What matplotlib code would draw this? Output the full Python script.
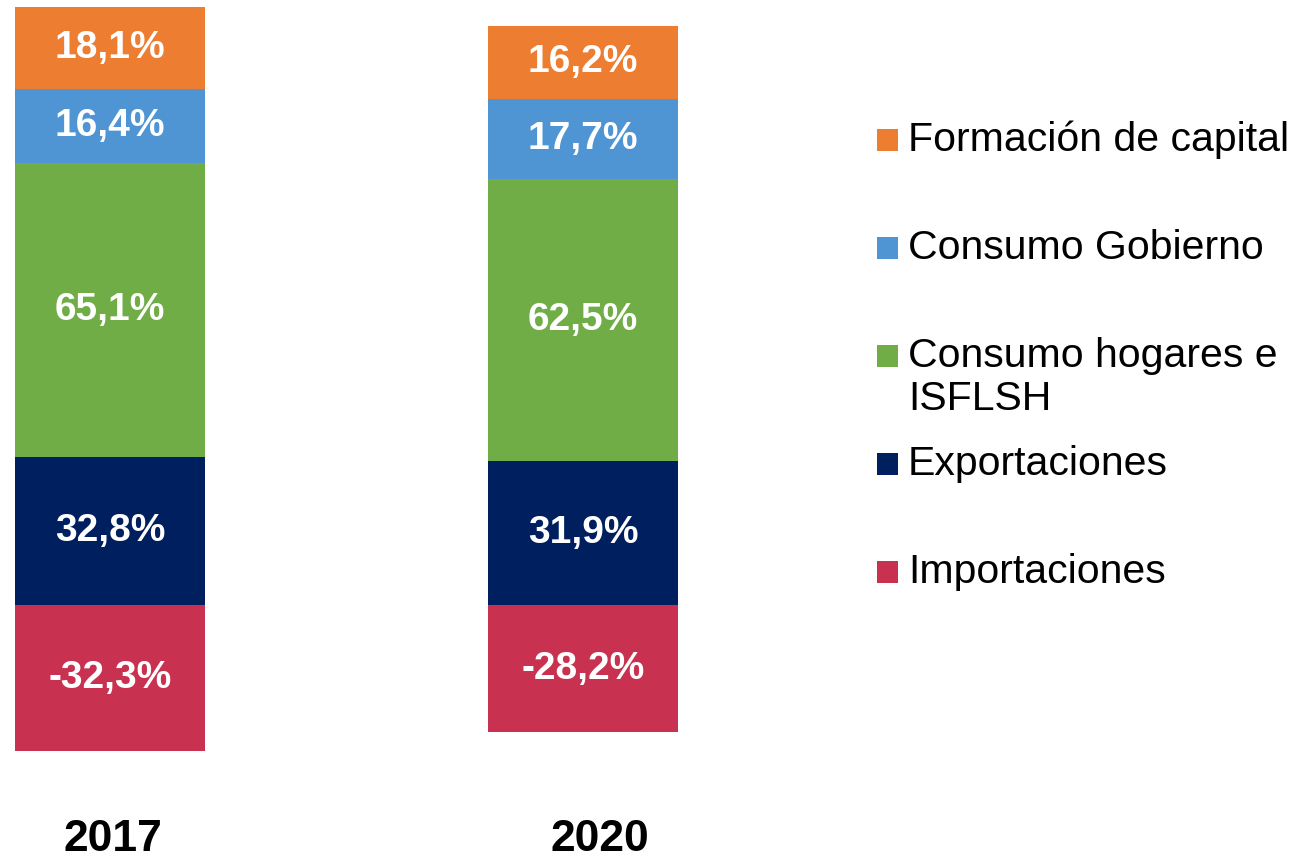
import matplotlib.pyplot as plt
from matplotlib.patches import Rectangle
from matplotlib.transforms import ScaledTranslation

# Years and component shares of GDP (%)
years = ['2017', '2020']
importaciones = [-32.3, -28.2]
exportaciones = [32.8, 31.9]
consumo_hogares = [65.1, 62.5]
consumo_gobierno = [16.4, 17.7]
formacion_capital = [18.1, 16.2]

# Series names (legend order, top to bottom) and colors
series_names = ['Formación de capital', 'Consumo Gobierno',
                'Consumo hogares e\nISFLSH', 'Exportaciones', 'Importaciones']
series_colors = ['#ED7D31', '#4F95D3', '#70AD47', '#001F5F', '#C83250']

plt.rcParams['font.family'] = ['Liberation Sans', 'DejaVu Sans']

W, H = 1297, 858
fig = plt.figure(figsize=(W / 100, H / 100), dpi=100)

# axes occupies the left part, from top to 800 px down
ax = fig.add_axes([0, 58 / H, 760 / W, 800 / H])

x = [0, 1]
width = 0.40

def fmt(vals):
    return [f'{v:.1f}%'.replace('.', ',') for v in vals]

# negative part
b_imp = ax.bar(x, importaciones, width, color=series_colors[4])
# positive stack
b_exp = ax.bar(x, exportaciones, width, color=series_colors[3])
bottom = exportaciones
b_hog = ax.bar(x, consumo_hogares, width, bottom=bottom, color=series_colors[2])
bottom = [a + b for a, b in zip(bottom, consumo_hogares)]
b_gob = ax.bar(x, consumo_gobierno, width, bottom=bottom, color=series_colors[1])
bottom = [a + b for a, b in zip(bottom, consumo_gobierno)]
b_cap = ax.bar(x, formacion_capital, width, bottom=bottom, color=series_colors[0])

for bars, vals in [(b_imp, importaciones), (b_exp, exportaciones),
                   (b_hog, consumo_hogares), (b_gob, consumo_gobierno),
                   (b_cap, formacion_capital)]:
    ax.bar_label(bars, labels=fmt(vals), label_type='center',
                 color='white', fontsize=28, fontweight='bold')

ax.set_xlim(-110 / 473, 650 / 473)
ax.set_ylim(-195 / 4.515, 605 / 4.515)
ax.set_xticks(x)
ax.set_xticklabels(years, fontsize=32, fontweight='bold')
ax.tick_params(axis='x', length=0, pad=14)
# year labels sit a little right of the bar centres in the original
for lab, dx in zip(ax.get_xticklabels(), [3, 17]):
    lab.set_transform(lab.get_transform() + ScaledTranslation(dx / 100, 0, fig.dpi_scale_trans))
ax.set_yticks([])
for s in ax.spines.values():
    s.set_visible(False)

# legend drawn by hand: markers evenly spaced, multi-line label flows down
for i, (name, col) in enumerate(zip(series_names, series_colors)):
    yc = 140 + i * 108
    fig.patches.append(Rectangle((877 / W, 1 - (yc + 11) / H), 21 / W, 22 / H,
                                 transform=fig.transFigure, facecolor=col,
                                 edgecolor='none'))
    for j, line in enumerate(name.split('\n')):
        fig.text(908 / W, 1 - (yc + j * 43) / H, line, fontsize=29.5,
                 va='center', ha='left', color='black')

fig.savefig('out.png', dpi=100)
